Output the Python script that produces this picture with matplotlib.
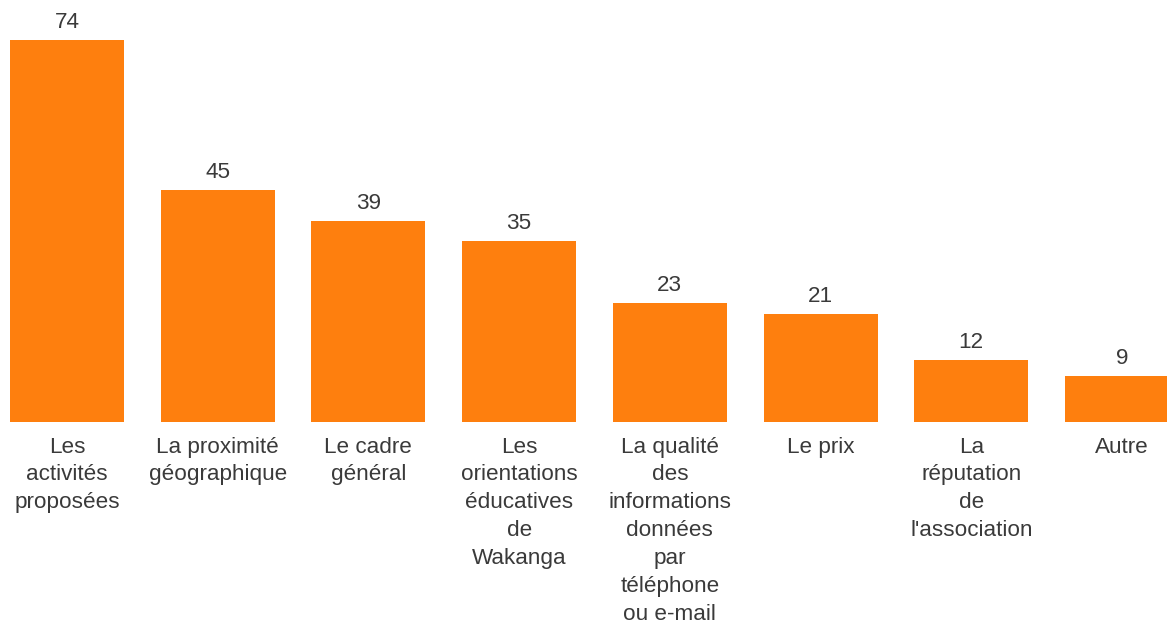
import matplotlib
matplotlib.use("Agg")
import matplotlib.pyplot as plt

categories = [
    "Les\nactivités\nproposées",
    "La proximité\ngéographique",
    "Le cadre\ngénéral",
    "Les\norientations\néducatives\nde\nWakanga",
    "La qualité\ndes\ninformations\ndonnées\npar\ntéléphone\nou e-mail",
    "Le prix",
    "La\nréputation\nde\nl'association",
    "Autre",
]
values = [74, 45, 39, 35, 23, 21, 12, 9]

W, H, DPI = 1167, 621, 100
fig = plt.figure(figsize=(W / DPI, H / DPI), dpi=DPI)
base_px = 422
ax = fig.add_axes([0, (H - base_px) / H, 1, base_px / H])

pitch = (1122 - 67) / 7
ax.set_xlim(-67 / pitch, (W - 67) / pitch)
ppu = (422 - 40) / 74
ax.set_ylim(0, base_px / ppu)

x = list(range(len(values)))
ax.bar(x, values, width=114 / pitch, color="#fe7f0e", edgecolor="none")

txt_color = "#3a3a3a"
fs = 16.2
for xi, v in zip(x, values):
    ax.annotate(str(v), (xi, v), xytext=(0, 5), textcoords="offset points",
                ha="center", va="bottom", fontsize=fs, color=txt_color,
                family="Liberation Sans")

for xi, lab in zip(x, categories):
    ax.annotate(lab, (xi, 0), xytext=(0, -10.5), textcoords="offset points",
                ha="center", va="top", fontsize=fs, color=txt_color,
                family="Liberation Sans", linespacing=1.43,
                annotation_clip=False)

ax.axis("off")
fig.savefig("out.png", dpi=DPI)
